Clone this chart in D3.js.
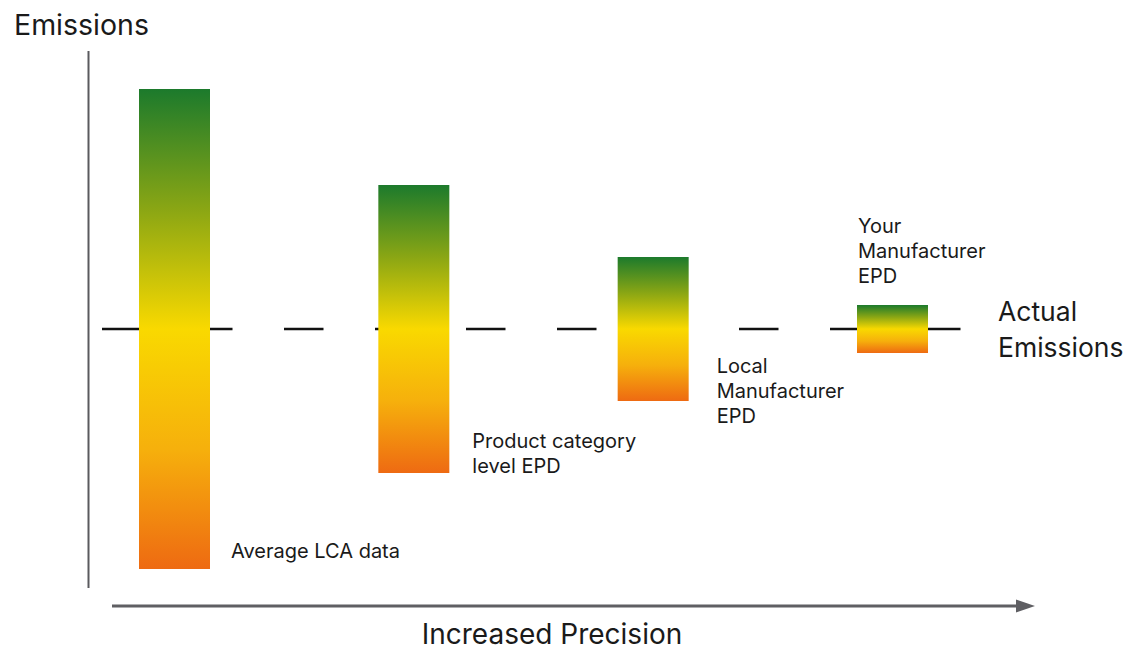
<!DOCTYPE html>
<html>
<head>
<meta charset="utf-8">
<script src="https://cdn.jsdelivr.net/npm/d3@7"></script>
<style>
  body { margin: 0; background: #fff; }
  svg { display: block; font-family: Inter, "Noto Sans", sans-serif; }
</style>
</head>
<body>
<div id="chart"></div>
<script>
// stages of precision, and the +/- spread around the actual emissions
const categories = ["Average LCA data", "Product category level EPD", "Local Manufacturer EPD", "Your Manufacturer EPD"];
const spread = [100, 60, 30, 10];
const labelLines = [["Average LCA data"], ["Product category", "level EPD"], ["Local", "Manufacturer", "EPD"], ["Your", "Manufacturer", "EPD"]];
const actual = 0;

const width = 1144, height = 649;
const svg = d3.select("#chart").append("svg")
  .attr("width", width)
  .attr("height", height);

const x = d3.scalePoint().domain(categories).range([174.5, 892.5]);
const y = d3.scaleLinear().domain([-100, 100]).range([569, 89]);
const barW = 71;

// gradient green (top) -> yellow (middle) -> orange (bottom)
const grad = svg.append("defs").append("linearGradient")
  .attr("id", "emis").attr("x1", 0).attr("y1", 0).attr("x2", 0).attr("y2", 1);
[[0, "#1c7a2c"], [0.25, "#8aa614"], [0.5, "#f9d900"], [0.75, "#f6b00c"], [1, "#ee6a12"]]
  .forEach(s => grad.append("stop").attr("offset", s[0]).attr("stop-color", s[1]));

// y axis line
svg.append("line")
  .attr("x1", 88.5).attr("x2", 88.5).attr("y1", 51).attr("y2", 588)
  .attr("stroke", "#5a5a5e").attr("stroke-width", 2);

svg.append("text")
  .text("Emissions")
  .attr("x", 14).attr("y", 35)
  .style("font-size", "28.5px").attr("fill", "#1a1a1a");

// actual emissions dashed line (behind the bars)
svg.append("line")
  .attr("x1", 102).attr("x2", 961)
  .attr("y1", y(actual)).attr("y2", y(actual))
  .attr("stroke", "#111").attr("stroke-width", 2.6)
  .attr("stroke-dasharray", "39.5 51.5");

svg.append("text")
  .attr("x", 998).attr("y", 321)
  .style("font-size", "26.5px").attr("fill", "#1a1a1a")
  .selectAll("tspan").data(["Actual", "Emissions"]).enter()
  .append("tspan")
  .attr("x", 998)
  .attr("dy", (d, i) => i ? 36 : 0)
  .text(d => d);

// bars
svg.selectAll(".bar").data(categories).enter()
  .append("rect")
  .attr("class", "bar")
  .attr("x", d => x(d) - barW / 2)
  .attr("width", barW)
  .attr("y", (d, i) => y(actual + spread[i]))
  .attr("height", (d, i) => y(actual - spread[i]) - y(actual + spread[i]))
  .attr("fill", "url(#emis)");

// bar labels
const labelPos = (d, i) => {
  const left = x(d) - barW / 2, right = x(d) + barW / 2;
  const top = y(actual + spread[i]), bottom = y(actual - spread[i]);
  const n = labelLines[i].length;
  if (i == 0) return [right + 21, bottom - 11];
  if (i == 1) return [right + 23, bottom - 25];
  if (i == 2) return [right + 28, bottom - 28];
  return [left + 1, top - 22 - (n - 1) * 25];
};

svg.selectAll(".lbl").data(categories).enter()
  .append("text")
  .attr("class", "lbl")
  .style("font-size", "20px").attr("fill", "#1a1a1a")
  .each(function(d, i) {
    const p = labelPos(d, i);
    d3.select(this).selectAll("tspan").data(labelLines[i]).enter()
      .append("tspan")
      .attr("x", p[0])
      .attr("y", (t, j) => p[1] + j * 25)
      .text(t => t);
  });

// x axis arrow
svg.append("line")
  .attr("x1", 112).attr("x2", 1018).attr("y1", 606).attr("y2", 606)
  .attr("stroke", "#5f5f63").attr("stroke-width", 3);
svg.append("path")
  .attr("d", "M1016,599.5 L1035,606 L1016,612.5 Z")
  .attr("fill", "#5f5f63");

svg.append("text")
  .text("Increased Precision")
  .attr("x", 552).attr("y", 644)
  .attr("text-anchor", "middle")
  .style("font-size", "28px").attr("fill", "#1a1a1a");
</script>
</body>
</html>
